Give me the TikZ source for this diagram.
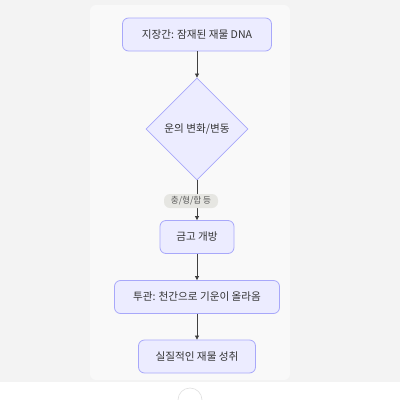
\documentclass[tikz,border=0pt]{standalone}
\usepackage{fontspec}
\setmainfont{Noto Sans CJK KR}
\usetikzlibrary{shapes.geometric,arrows.meta}
\definecolor{nodefill}{HTML}{ECECFF}
\definecolor{nodeline}{HTML}{A8A8FA}
\definecolor{outerbg}{HTML}{F3F3F3}
\definecolor{panelbg}{HTML}{F9F9F9}
\definecolor{txt}{HTML}{333333}
\definecolor{pill}{HTML}{E6E6E2}
\tikzset{
  x=1pt,y=-1pt,
  box/.style={draw=nodeline,fill=nodefill,rounded corners=6pt,line width=0.8pt,
    minimum height=33pt,inner xsep=12pt,text=txt,font=\fontsize{10.6}{12}\selectfont},
  dia/.style={draw=nodeline,fill=nodefill,diamond,line width=0.8pt,minimum width=102pt,minimum height=102pt,
    inner sep=0pt,text=txt,font=\fontsize{10.6}{12}\selectfont},
  conn/.style={draw=black!75,line width=0.7pt,-{Triangle[length=4pt,width=4pt]}},
  lbl/.style={fill=pill,rounded corners=6pt,text=black!65,font=\fontsize{8.6}{10}\selectfont,
    inner xsep=3pt,inner ysep=1pt,minimum height=14pt,minimum width=54pt}
}
\begin{document}
\begin{tikzpicture}
\useasboundingbox (0,0) rectangle (400,400);
\fill[outerbg] (0,0) rectangle (400,382);
\fill[panelbg,rounded corners=6pt] (90,5) rectangle (290,380);
\fill[white] (0,382) rectangle (400,400);
\draw[black!12,line width=0.6pt] (190,400) circle (12);
\node[box,minimum width=149pt] (n1) at (197,34.5) {지장간: 잠재된 재물 DNA};
\node[dia] (d) at (197,129) {운의 변화/변동};
\node[box,minimum width=74pt] (n2) at (197,237) {금고 개방};
\node[box,minimum width=165pt] (n3) at (197,297) {투관: 천간으로 기운이 올라옴};
\node[box,minimum width=117pt] (n4) at (197,356.5) {실질적인 재물 성취};
\draw[conn] (n1) -- (d);
\draw[conn] (d) -- (n2);
\node[lbl] (l) at (191,201) {충/형/합 등};
\draw[conn] (n2) -- (n3);
\draw[conn] (n3) -- (n4);
\end{tikzpicture}
\end{document}
